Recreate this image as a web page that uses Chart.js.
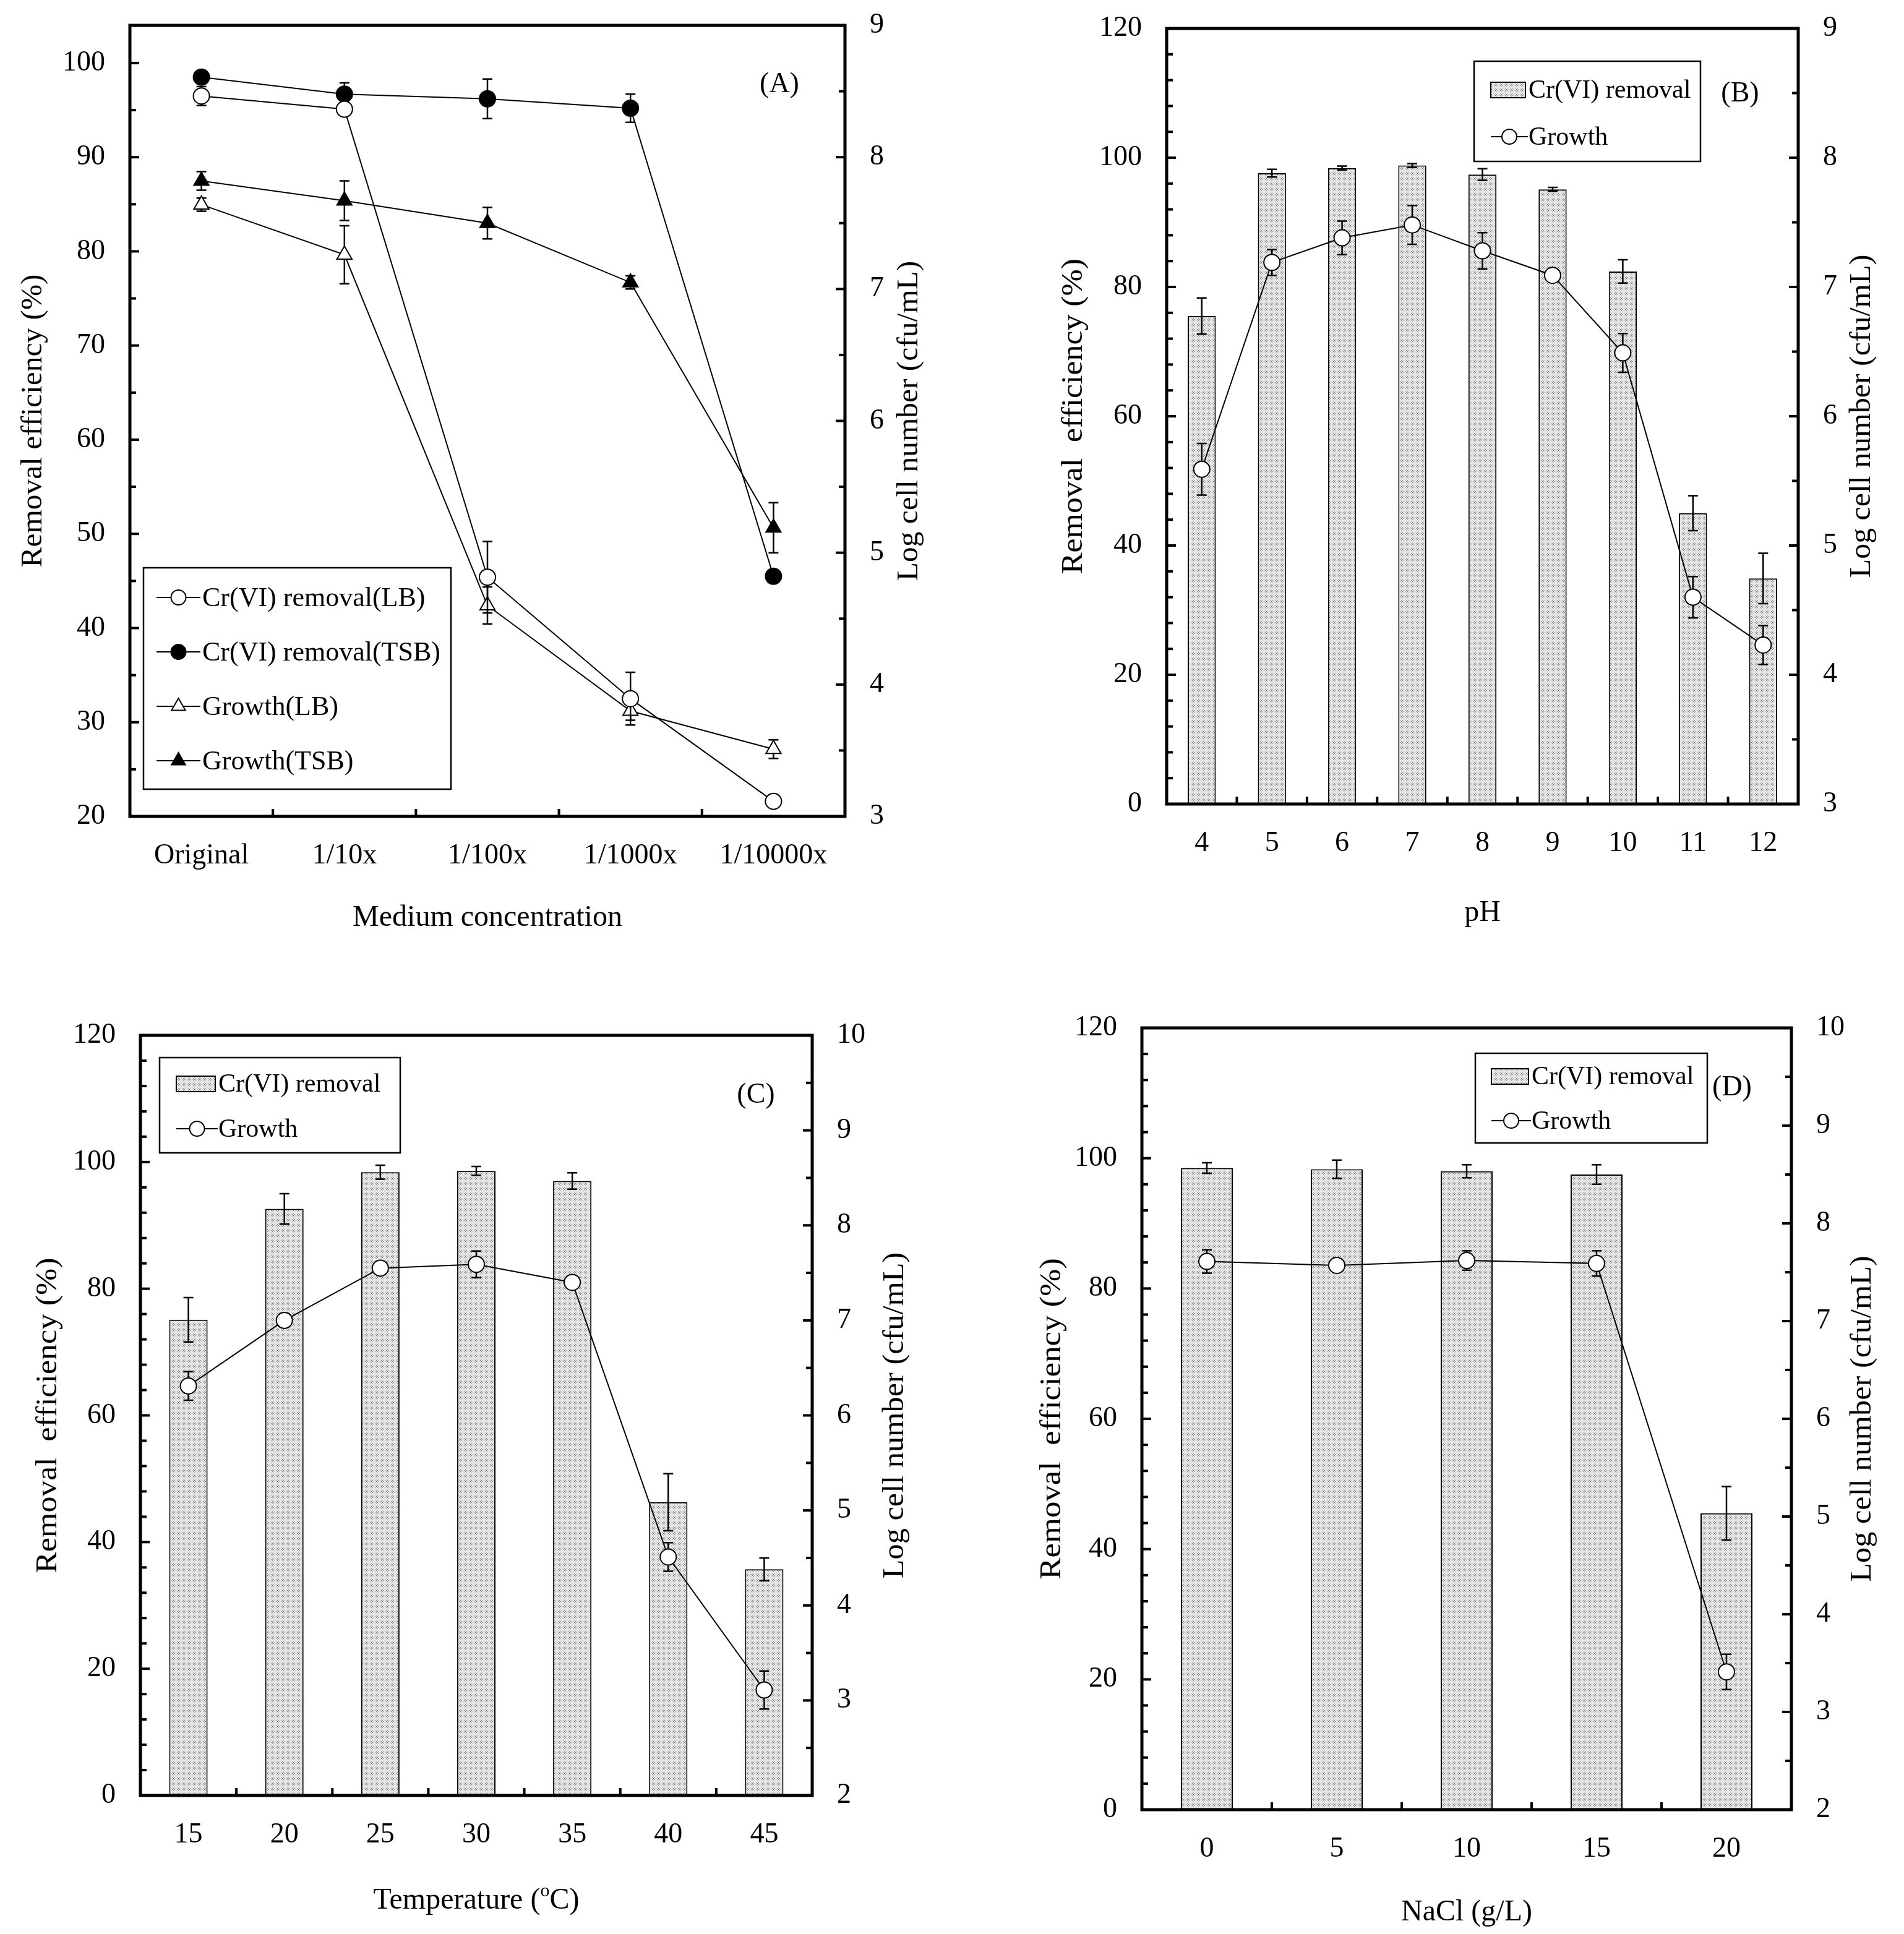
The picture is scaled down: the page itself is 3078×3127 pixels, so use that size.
<!DOCTYPE html>
<html>
<head>
<meta charset="utf-8">
<script src="https://cdn.jsdelivr.net/npm/chart.js@4.4.0/dist/chart.umd.min.js"></script>
<style>
  html, body { margin: 0; padding: 0; background: #fff; }
  #wrap { position: relative; width: 3078px; height: 3127px; background: #fff; }
  canvas { position: absolute; }
</style>
</head>
<body>
<div id="wrap">
  <canvas id="panel_a" width="1539" height="1563" style="left:0;top:0"></canvas>
  <canvas id="panel_b" width="1539" height="1563" style="left:1539px;top:0"></canvas>
  <canvas id="panel_c" width="1539" height="1564" style="left:0;top:1563px"></canvas>
  <canvas id="panel_d" width="1539" height="1564" style="left:1539px;top:1563px"></canvas>
</div>
<script>
  const FONT = "'Liberation Serif', 'Times New Roman', serif"

  // (A) medium concentration
  const mediumLabels = ['Original', '1/10x', '1/100x', '1/1000x', '1/10000x']
  const crLB = [96.5, 95.1, 45.4, 32.5, 21.6]
  const crLBErr = [1.0, 0.5, 3.8, 2.8, 0.4]
  const crTSB = [98.5, 96.7, 96.2, 95.2, 45.5]
  const crTSBErr = [0.4, 1.2, 2.1, 1.5, 0]
  const growthLB = [7.64, 7.26, 4.60, 3.80, 3.51]
  const growthLBErr = [0.05, 0.22, 0.14, 0.07, 0.07]
  const growthTSB = [7.82, 7.67, 7.50, 7.05, 5.19]
  const growthTSBErr = [0.07, 0.15, 0.12, 0.05, 0.19]

  // (B) pH
  const phLabels = ['4', '5', '6', '7', '8', '9', '10', '11', '12']
  const phRemoval = [75.5, 97.6, 98.4, 98.8, 97.4, 95.1, 82.4, 45.0, 34.9]
  const phRemovalErr = [2.8, 0.6, 0.3, 0.3, 0.9, 0.3, 1.8, 2.7, 3.9]
  const phGrowth = [5.59, 7.19, 7.38, 7.48, 7.28, 7.09, 6.49, 4.60, 4.23]
  const phGrowthErr = [0.2, 0.1, 0.13, 0.15, 0.14, 0.05, 0.15, 0.16, 0.15]

  // (C) temperature
  const tempLabels = ['15', '20', '25', '30', '35', '40', '45']
  const tempRemoval = [75.1, 92.6, 98.4, 98.6, 97.0, 46.3, 35.7]
  const tempRemovalErr = [3.5, 2.4, 1.1, 0.7, 1.3, 4.5, 1.8]
  const tempGrowth = [6.31, 7.0, 7.55, 7.59, 7.40, 4.51, 3.11]
  const tempGrowthErr = [0.15, 0.07, 0.03, 0.14, 0.03, 0.15, 0.2]

  // (D) NaCl
  const naclLabels = ['0', '5', '10', '15', '20']
  const naclRemoval = [98.5, 98.3, 98.0, 97.5, 45.5]
  const naclRemovalErr = [0.8, 1.4, 1.0, 1.5, 4.1]
  const naclGrowth = [7.61, 7.57, 7.62, 7.59, 3.41]
  const naclGrowthErr = [0.12, 0.02, 0.1, 0.13, 0.18]

  Chart.defaults.font.family = FONT
  Chart.defaults.color = '#000'

  const makePattern = ctx => {
    const c = document.createElement('canvas')
    c.width = 4
    c.height = 4
    const g = c.getContext('2d')
    g.fillStyle = '#e6e6e6'
    g.fillRect(0, 0, 4, 4)
    g.fillStyle = '#6a6a6a'
    g.fillRect(0, 0, 1, 1)
    g.fillRect(2, 2, 1, 1)
    return ctx.createPattern(c, 'repeat')
  }

  const drawMarker = (ctx, kind, x, y) => {
    ctx.save()
    ctx.lineWidth = 2
    ctx.strokeStyle = '#000'
    ctx.fillStyle = kind.startsWith('filled') ? '#000' : '#fff'
    ctx.beginPath()
    if (kind.endsWith('Circle')) {
      ctx.arc(x, y, 12, 0, Math.PI * 2)
    } else {
      const r = 13
      for (let k = 0; k < 3; k++) {
        const a = k * 2 * Math.PI / 3
        const px = x + Math.sin(a) * r
        const py = y - Math.cos(a) * r
        k === 0 ? ctx.moveTo(px, py) : ctx.lineTo(px, py)
      }
      ctx.closePath()
    }
    ctx.fill()
    ctx.stroke()
    ctx.restore()
  }

  const drawErrors = (chart, index) => {
    const ds = chart.data.datasets[index]
    if (!ds.errors) return
    const meta = chart.getDatasetMeta(index)
    const scale = chart.scales[meta.yAxisID]
    const ctx = chart.ctx
    ctx.save()
    ctx.strokeStyle = '#000'
    ctx.lineWidth = 2.5
    meta.data.forEach((el, i) => {
      const err = ds.errors[i]
      if (!err) return
      const yTop = scale.getPixelForValue(ds.data[i] + err)
      const yBot = scale.getPixelForValue(ds.data[i] - err)
      ctx.beginPath()
      ctx.moveTo(el.x, yTop)
      ctx.lineTo(el.x, yBot)
      ctx.moveTo(el.x - 8, yTop)
      ctx.lineTo(el.x + 8, yTop)
      ctx.moveTo(el.x - 8, yBot)
      ctx.lineTo(el.x + 8, yBot)
      ctx.stroke()
    })
    ctx.restore()
  }

  const errorBarPlugin = {
    id: 'errorBars',
    afterDatasetDraw(chart, args) {
      if (args.meta.type === 'bar') drawErrors(chart, args.index)
    },
    beforeDatasetDraw(chart, args) {
      if (args.meta.type === 'line') drawErrors(chart, args.index)
    }
  }

  const drawParts = (ctx, parts, size) => {
    // measure then draw centred at 0,0
    const widths = parts.map(p => {
      ctx.font = `${p.sup ? Math.round(size * 0.62) : size}px ${FONT}`
      return ctx.measureText(p.t).width
    })
    let x = -widths.reduce((a, b) => a + b, 0) / 2
    parts.forEach((p, i) => {
      ctx.font = `${p.sup ? Math.round(size * 0.62) : size}px ${FONT}`
      ctx.fillText(p.t, x, p.sup ? -size * 0.3 : 0)
      x += widths[i]
    })
  }

  const decorPlugin = decor => ({
    id: 'panelDecor',
    afterDraw(chart) {
      const ctx = chart.ctx
      const area = chart.chartArea
      ctx.save()
      ctx.fillStyle = '#000'
      ctx.textBaseline = 'middle'
      ctx.textAlign = 'left'

      // axis titles
      ctx.save()
      ctx.translate(area.left - decor.titleOffsets[0], (area.top + area.bottom) / 2)
      ctx.rotate(-Math.PI / 2)
      ctx.scale(decor.stretch[0], 1)
      drawParts(ctx, [{ t: decor.yTitle }], decor.titleSize)
      ctx.restore()
      ctx.save()
      ctx.translate(area.right + decor.titleOffsets[1], (area.top + area.bottom) / 2)
      ctx.rotate(-Math.PI / 2)
      ctx.scale(decor.stretch[1], 1)
      drawParts(ctx, [{ t: decor.y1Title }], decor.titleSize)
      ctx.restore()
      ctx.save()
      ctx.translate((area.left + area.right) / 2, area.bottom + decor.titleOffsets[2])
      drawParts(ctx, decor.xTitle, decor.titleSize)
      ctx.restore()

      // panel letter
      ctx.font = `46px ${FONT}`
      ctx.textAlign = 'center'
      ctx.fillText(decor.panel[0], decor.panel[1], decor.panel[2])

      // legend
      const lg = decor.legend
      ctx.fillStyle = '#fff'
      ctx.fillRect(lg.box[0], lg.box[1], lg.box[2], lg.box[3])
      ctx.strokeStyle = '#000'
      ctx.lineWidth = 2.5
      ctx.strokeRect(lg.box[0], lg.box[1], lg.box[2], lg.box[3])
      ctx.font = `${lg.size}px ${FONT}`
      ctx.textAlign = 'left'
      lg.items.forEach((item, i) => {
        const y = lg.rows[i]
        if (item.kind === 'bar') {
          ctx.fillStyle = decor.pattern
          ctx.fillRect(lg.sym[0], y - 12, lg.sym[1] - lg.sym[0], 25)
          ctx.lineWidth = 2
          ctx.strokeRect(lg.sym[0], y - 12, lg.sym[1] - lg.sym[0], 25)
        } else {
          ctx.lineWidth = 2
          ctx.beginPath()
          ctx.moveTo(lg.sym[0], y)
          ctx.lineTo(lg.sym[1] + 4, y)
          ctx.stroke()
          drawMarker(ctx, item.kind, (lg.sym[0] + lg.sym[1] + 4) / 2, y)
        }
        ctx.fillStyle = '#000'
        ctx.fillText(item.text, lg.textX, y + 2)
      })

      // frame
      ctx.strokeStyle = '#000'
      ctx.lineWidth = 5
      ctx.strokeRect(area.left, area.top, area.right - area.left, area.bottom - area.top)

      // inward ticks
      ctx.lineWidth = 4
      const yTicks = (scale, x0, dir, minor, major) => {
        const n = Math.round((scale.max - scale.min) / minor)
        for (let k = 1; k <= n; k++) {
          const v = scale.min + k * minor
          const py = scale.getPixelForValue(v)
          if (py < area.top + 4) continue
          const isMajor = Math.abs(v / major - Math.round(v / major)) < 1e-6
          ctx.beginPath()
          ctx.moveTo(x0, py)
          ctx.lineTo(x0 + dir * (isMajor ? 15 : 10), py)
          ctx.stroke()
        }
      }
      yTicks(chart.scales.y, area.left, 1, decor.minor[0], decor.minor[1])
      yTicks(chart.scales.y1, area.right, -1, decor.minor[2], decor.minor[3])
      const xs = chart.scales.x
      for (let i = 0; i < chart.data.labels.length - 1; i++) {
        const px = xs.getPixelForValue(i + 0.5)
        ctx.beginPath()
        ctx.moveTo(px, area.bottom)
        ctx.lineTo(px, area.bottom - 12)
        ctx.stroke()
      }
      ctx.restore()
    }
  })

  const buildPanel = (canvasId, setup) => {
    const canvas = document.getElementById(canvasId)
    const ctx = canvas.getContext('2d')
    const pattern = makePattern(ctx)
    setup.decor.pattern = pattern
    setup.datasets.forEach(ds => {
      if (ds.type === 'bar') ds.backgroundColor = pattern
    })
    const area = setup.area
    const majorFilter = step => s => {
      s.ticks = s.ticks.filter(t => Math.abs(t.value / step - Math.round(t.value / step)) < 1e-6)
    }
    const tickFont = { size: 46, family: FONT }
    new Chart(ctx, {
      type: 'bar',
      data: { labels: setup.labels, datasets: setup.datasets },
      options: {
        responsive: false,
        animation: false,
        devicePixelRatio: 1,
        layout: { padding: { top: area.top, left: 0, right: 0, bottom: 0 } },
        plugins: { legend: { display: false }, tooltip: { enabled: false } },
        scales: {
          x: {
            type: 'category',
            offset: true,
            grid: { display: false, drawTicks: false },
            border: { display: false },
            ticks: { padding: 36, font: tickFont, color: '#000', maxRotation: 0, autoSkip: false },
            afterFit: s => {
              s.height = canvas.height - area.bottom
              s.paddingLeft = 0
              s.paddingRight = 0
            }
          },
          y: {
            position: 'left',
            min: setup.yRange[0],
            max: setup.yRange[1],
            grid: { display: false, drawTicks: false },
            border: { display: false },
            ticks: { stepSize: setup.yRange[2], padding: 40, font: tickFont, color: '#000' },
            afterBuildTicks: majorFilter(setup.yRange[2]),
            afterFit: s => {
              s.width = area.left
              s.paddingTop = 0
              s.paddingBottom = 0
            }
          },
          y1: {
            position: 'right',
            min: setup.y1Range[0],
            max: setup.y1Range[1],
            grid: { display: false, drawTicks: false },
            border: { display: false },
            ticks: { stepSize: 1, padding: 40, font: tickFont, color: '#000' },
            afterBuildTicks: majorFilter(1),
            afterFit: s => {
              s.width = canvas.width - area.right
              s.paddingTop = 0
              s.paddingBottom = 0
            }
          }
        }
      },
      plugins: [errorBarPlugin, decorPlugin(setup.decor)]
    })
  }

  const lineSet = (label, data, errors, axis, kind) => ({
    type: 'line',
    label: label,
    data: data,
    errors: errors,
    yAxisID: axis,
    borderColor: '#000',
    borderWidth: 2,
    tension: 0,
    fill: false,
    pointStyle: kind.endsWith('Circle') ? 'circle' : 'triangle',
    pointRadius: kind.endsWith('Circle') ? 13 : 14,
    pointBackgroundColor: kind.startsWith('filled') ? '#000' : '#fff',
    pointBorderColor: '#000',
    pointBorderWidth: 2
  })

  const barSet = (label, data, errors) => ({
    type: 'bar',
    label: label,
    data: data,
    errors: errors,
    yAxisID: 'y',
    borderColor: '#000',
    borderWidth: 2,
    barPercentage: 0.4,
    categoryPercentage: 1
  })

  const yTitle = 'Removal efficiency (%)'
  const yTitleWide = 'Removal  efficiency (%)'
  const y1Title = 'Log cell number (cfu/mL)'
  const barLegend = [{ kind: 'bar', text: 'Cr(VI) removal' }, { kind: 'openCircle', text: 'Growth' }]

  buildPanel('panel_a', {
    labels: mediumLabels,
    datasets: [
      lineSet('Cr(VI) removal(LB)', crLB, crLBErr, 'y', 'openCircle'),
      lineSet('Cr(VI) removal(TSB)', crTSB, crTSBErr, 'y', 'filledCircle'),
      lineSet('Growth(LB)', growthLB, growthLBErr, 'y1', 'openTriangle'),
      lineSet('Growth(TSB)', growthTSB, growthTSBErr, 'y1', 'filledTriangle')
    ],
    yRange: [20, 104, 10],
    y1Range: [3, 9],
    area: { left: 210, right: 1366, top: 41, bottom: 1320 },
    decor: {
      yTitle: yTitle, y1Title: y1Title, xTitle: [{ t: 'Medium concentration' }],
      titleSize: 48, titleOffsets: [156, 104, 164], stretch: [1.03, 1.03],
      panel: ['(A)', 1260, 137],
      minor: [5, 10, 0.5, 1],
      legend: {
        box: [232, 918, 497, 358], rows: [966, 1054, 1142, 1230], sym: [253, 320], textX: 327, size: 44,
        items: [
          { kind: 'openCircle', text: 'Cr(VI) removal(LB)' },
          { kind: 'filledCircle', text: 'Cr(VI) removal(TSB)' },
          { kind: 'openTriangle', text: 'Growth(LB)' },
          { kind: 'filledTriangle', text: 'Growth(TSB)' }
        ]
      }
    }
  })

  buildPanel('panel_b', {
    labels: phLabels,
    datasets: [
      lineSet('Growth', phGrowth, phGrowthErr, 'y1', 'openCircle'),
      barSet('Cr(VI) removal', phRemoval, phRemovalErr)
    ],
    yRange: [0, 120, 20],
    y1Range: [3, 9],
    area: { left: 347, right: 1368, top: 46, bottom: 1300 },
    decor: {
      yTitle: yTitleWide, y1Title: y1Title, xTitle: [{ t: 'pH' }],
      titleSize: 48, titleOffsets: [150, 103, 176], stretch: [1.08, 1.04],
      panel: ['(B)', 1274, 152],
      minor: [4, 20, 0.5, 1],
      legend: { box: [844, 99, 366, 162], rows: [145, 221], sym: [871, 927], textX: 932, size: 42, items: barLegend }
    }
  })

  buildPanel('panel_c', {
    labels: tempLabels,
    datasets: [
      lineSet('Growth', tempGrowth, tempGrowthErr, 'y1', 'openCircle'),
      barSet('Cr(VI) removal', tempRemoval, tempRemovalErr)
    ],
    yRange: [0, 120, 20],
    y1Range: [2, 10],
    area: { left: 227, right: 1313, top: 111, bottom: 1340 },
    decor: {
      yTitle: yTitleWide, y1Title: y1Title,
      xTitle: [{ t: 'Temperature (' }, { t: 'o', sup: true }, { t: 'C)' }],
      titleSize: 48, titleOffsets: [149, 134, 170], stretch: [1.08, 1.05],
      panel: ['(C)', 1222, 208],
      minor: [4, 20, 0.5, 1],
      legend: { box: [258, 147, 389, 154], rows: [189, 262], sym: [285, 348], textX: 353, size: 42, items: barLegend }
    }
  })

  buildPanel('panel_d', {
    labels: naclLabels,
    datasets: [
      lineSet('Growth', naclGrowth, naclGrowthErr, 'y1', 'openCircle'),
      barSet('Cr(VI) removal', naclRemoval, naclRemovalErr)
    ],
    yRange: [0, 120, 20],
    y1Range: [2, 10],
    area: { left: 307, right: 1357, top: 99, bottom: 1363 },
    decor: {
      yTitle: yTitleWide, y1Title: y1Title, xTitle: [{ t: 'NaCl (g/L)' }],
      titleSize: 48, titleOffsets: [145, 115, 166], stretch: [1.1, 1.05],
      panel: ['(D)', 1261, 196],
      minor: [4, 20, 0.5, 1],
      legend: { box: [846, 140, 375, 145], rows: [177, 249], sym: [872, 932], textX: 937, size: 42, items: barLegend }
    }
  })
</script>
</body>
</html>
